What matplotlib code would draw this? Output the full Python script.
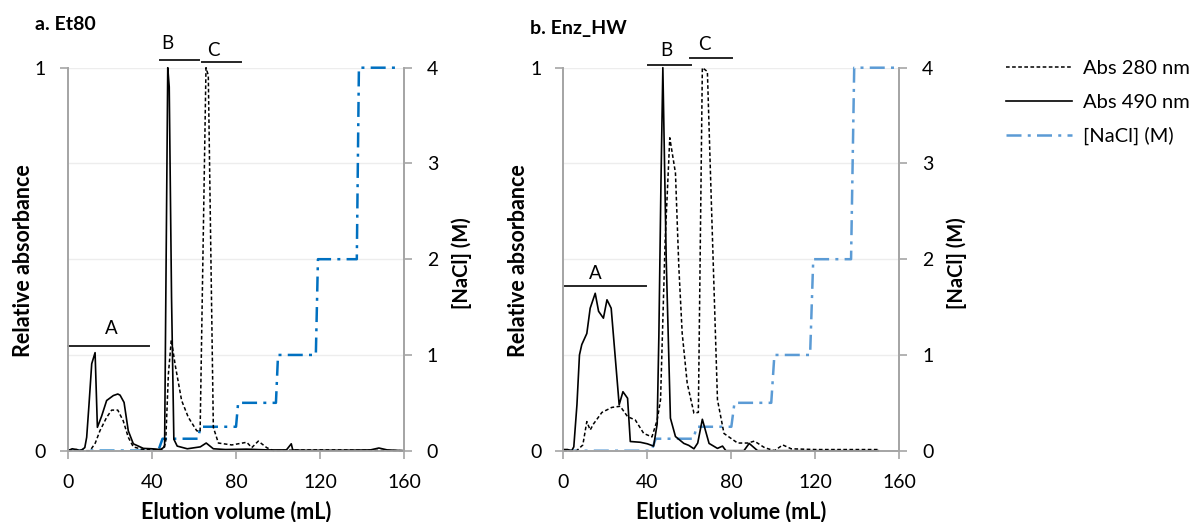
import numpy as np
import matplotlib
matplotlib.use("Agg")
import matplotlib.pyplot as plt
from matplotlib.lines import Line2D

plt.rcParams['font.family'] = ['Lato', 'DejaVu Sans']

# ---------------- data ----------------
# panel a: Et80
a_v490 = [0, 2, 4, 6, 8, 8.9, 10, 11.3, 12.9, 14.0, 16, 18.4, 21.6, 23.7, 24.8, 26.7, 28.7,
          31.1, 35.9, 40, 44, 46.0, 46.5, 47.5, 48.2, 49.3, 50.4, 52, 56.8, 63, 65.8, 69.2, 75,
          85, 95, 104, 106.3, 107, 112, 130, 144, 148, 152, 160]
a_abs490 = [0.0, 0.005, 0.003, 0.0, 0.008, 0.035, 0.12, 0.227, 0.256, 0.061, 0.09, 0.131, 0.144,
            0.148, 0.145, 0.126, 0.052, 0.018, 0.006, 0.005, 0.003, 0.01, 0.35, 1.0, 0.95, 0.4,
            0.03, 0.012, 0.005, 0.01, 0.02, 0.005, 0.003, 0.004, 0.002, 0.002, 0.018, 0.002, 0.001,
            0.001, 0.002, 0.007, 0.002, 0.0]

a_v280 = [0, 4, 8, 10.5, 13, 15.2, 18.4, 20.8, 23.7, 26.3, 28.7, 31.1, 35, 40, 45, 46.5, 47.8,
          49.2, 51, 54.1, 57.3, 61.3, 62.9, 65.7, 66.8, 69.2, 71.6, 78, 85.1, 87.5, 90.6, 94.6,
          97.8, 110, 130, 160]
a_abs280 = [0.0, 0.003, 0.0, 0.0, 0.02, 0.052, 0.087, 0.106, 0.106, 0.078, 0.035, 0.01, 0.004,
            0.003, 0.003, 0.02, 0.2, 0.29, 0.225, 0.131, 0.087, 0.052, 0.05, 1.0, 0.98, 0.061,
            0.02, 0.015, 0.022, 0.008, 0.025, 0.008, 0.0, 0.002, 0.002, 0.0]

a_vnacl = [0.5, 43, 45, 62, 63, 80, 81, 99, 100, 118, 119, 137.5, 138.5, 157]
a_nacl = [0, 0, 0.125, 0.125, 0.25, 0.25, 0.5, 0.5, 1, 1, 2, 2, 4, 4]

# panel b: Enz_HW
b_v490 = [0, 2, 4, 5, 6.5, 7.7, 8.8, 11.2, 12.8, 15.2, 16.8, 19.1, 20.8, 22.8, 26.6, 28.4, 30.6,
          31.9, 36.7, 40, 43, 44.7, 45.5, 46.5, 47.4, 49, 51, 53.4, 57.4, 59.7, 62.2, 64, 66.2,
          69.4, 73.4, 75.8, 77.4, 86, 88.5, 92.5, 110, 150]
b_abs490 = [0.003, 0.003, 0.0, 0.01, 0.12, 0.25, 0.277, 0.306, 0.372, 0.411, 0.364, 0.346, 0.394,
            0.372, 0.12, 0.154, 0.137, 0.024, 0.022, 0.018, 0.012, 0.07, 0.3, 0.7, 1.0, 0.5,
            0.085, 0.037, 0.019, 0.014, 0.005, 0.02, 0.082, 0.019, 0.006, 0.012, 0.0, 0.0, 0.019,
            0.0, 0.0, 0.0]

b_v280 = [0, 6.4, 9.3, 11.2, 12.8, 14.4, 18.4, 23.1, 27.1, 30.6, 34.3, 38.3, 42.2, 44.7, 46.3,
          48.5, 50.7, 53.4, 55, 56.6, 59, 62.2, 64.3, 66.2, 68.6, 70.2, 73.4, 76.5, 83, 87.8, 91,
          95.8, 100.5, 104.5, 108.5, 120, 150]
b_abs280 = [0.0, 0.0, 0.015, 0.076, 0.054, 0.07, 0.1, 0.113, 0.116, 0.089, 0.08, 0.045, 0.036,
            0.08, 0.133, 0.55, 0.817, 0.725, 0.48, 0.307, 0.176, 0.098, 0.1, 1.0, 0.99, 0.7,
            0.133, 0.045, 0.02, 0.02, 0.025, 0.008, 0.0, 0.015, 0.005, 0.003, 0.003]

b_vnacl = [0, 42, 44, 62, 63.5, 80, 81.5, 99, 100.5, 117.5, 119, 137, 138.5, 160]
b_nacl = [0, 0, 0.125, 0.125, 0.25, 0.25, 0.5, 0.5, 1, 1, 2, 2, 4, 4]

# fraction bars: (label, start, end, height, text x, text y)
a_fractions = [("A", 0, 38.7, 0.274, 20.5, 0.318),
               ("B", 43.8, 62.4, 1.021, 47.5, 1.064),
               ("C", 63.6, 82.2, 1.014, 69.2, 1.046)]
b_fractions = [("A", 0.8, 39.6, 0.431, 15.2, 0.462),
               ("B", 40.4, 60.6, 1.008, 49.0, 1.046),
               ("C", 60.3, 80.3, 1.025, 67.3, 1.06)]

titles = ["a. Et80", "b. Enz_HW"]
title_pos = [(-0.098, 1.114), (-0.0996, 1.102)]
nacl_colors = ["#0070C0", "#5B9BD5"]

dash280 = (0, (2.4, 1.6))
dashnacl = (0, (6, 2.5, 1.2, 2.5))
spine_col = "#A6A6A6"

fig = plt.figure(figsize=(11.99, 5.22), dpi=100)
lefts = [0.0567, 0.4698]
width = 0.2803
bottom, height = 0.1366, 0.7337

panels = [(a_v490, a_abs490, a_v280, a_abs280, a_vnacl, a_nacl, a_fractions),
          (b_v490, b_abs490, b_v280, b_abs280, b_vnacl, b_nacl, b_fractions)]

for i, (v490, s490, v280, s280, vn, cn, fracs) in enumerate(panels):
    ax = fig.add_axes([lefts[i], bottom, width, height])
    ax2 = ax.twinx()
    ax.set_zorder(ax2.get_zorder() + 1)
    ax.patch.set_visible(False)

    ax2.plot(vn, cn, color=nacl_colors[i], lw=1.8, linestyle=dashnacl, clip_on=False)
    ax.plot(v280, s280, color="black", lw=1.1, linestyle=dash280, clip_on=False)
    ax.plot(v490, s490, color="black", lw=1.2, clip_on=False)

    ax.set_xlim(0, 160)
    ax.set_ylim(0, 1)
    ax2.set_ylim(0, 4)
    ax.set_xticks([0, 40, 80, 120, 160])
    ax.set_yticks([0, 1])
    ax2.set_yticks([0, 1, 2, 3, 4])
    ax2.grid(axis="y", color="#EDEDED", lw=1.0)
    ax2.set_axisbelow(True)

    for a_ in (ax, ax2):
        a_.spines["top"].set_visible(False)
        for s in ("left", "right", "bottom"):
            a_.spines[s].set_color(spine_col)
            a_.spines[s].set_linewidth(1.3)
    ax.tick_params(axis="both", labelsize=14, length=5.8, width=1.2, color=spine_col)
    ax.tick_params(axis="x", pad=11)
    ax.tick_params(axis="y", pad=10)
    ax2.tick_params(axis="y", labelsize=14, length=5.8, width=1.2, color=spine_col, pad=10.5)

    ax.set_xlabel("Elution volume (mL)", fontsize=15.5, fontweight="bold")
    ax.xaxis.set_label_coords(0.5, -0.13)
    ax.set_ylabel("Relative absorbance", fontsize=15.5, fontweight="bold")
    ax.yaxis.set_label_coords(-0.102, 0.496)
    ax2.set_ylabel("[NaCl] (M)", fontsize=14.5, fontweight="bold")
    ax2.yaxis.set_label_coords(1.14, 0.49)

    for lab, x0, x1, y, tx, ty in fracs:
        ax.plot([x0, x1], [y, y], color="#262626", lw=1.4, clip_on=False)
        ax.text(tx, ty, lab, fontsize=13.5, ha="center", va="center", clip_on=False)

    ax.text(title_pos[i][0], title_pos[i][1], titles[i], transform=ax.transAxes,
            fontsize=14, fontweight="bold", va="center", ha="left")

handles = [Line2D([], [], color="black", lw=1.1, linestyle=dash280),
           Line2D([], [], color="black", lw=1.2),
           Line2D([], [], color=nacl_colors[1], lw=1.8, linestyle=dashnacl)]
fig.legend(handles, ["Abs 280 nm", "Abs 490 nm", "[NaCl] (M)"], loc="upper left",
           bbox_to_anchor=(0.8323, 0.9), frameon=False, fontsize=14.5,
           handlelength=3.3, handletextpad=0.5, labelspacing=0.8, borderaxespad=0)

fig.savefig("out.png", dpi=100)
